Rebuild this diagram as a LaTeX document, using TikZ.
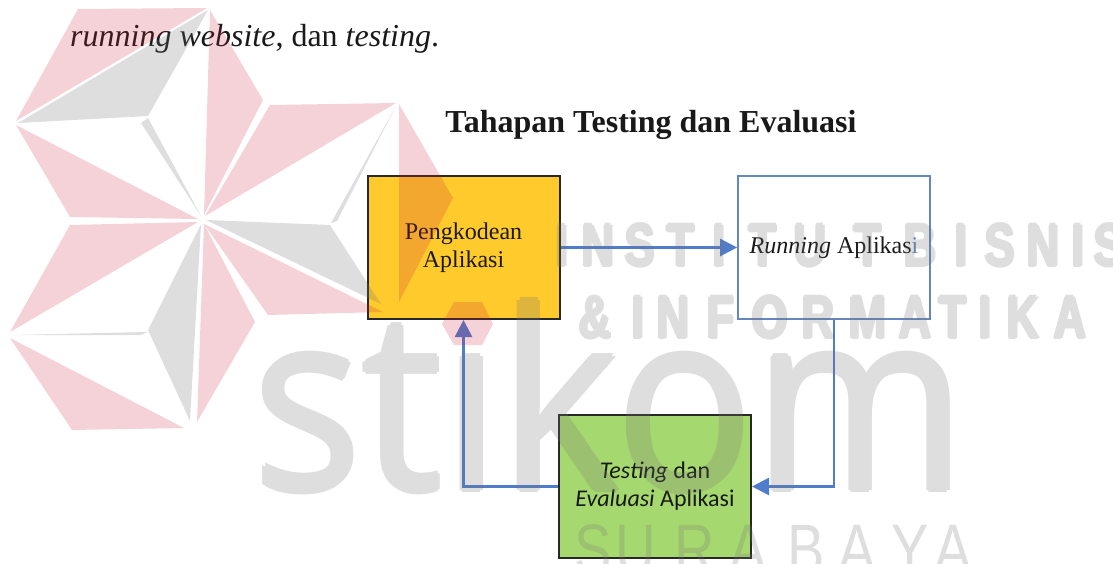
\documentclass[tikz,border=0pt]{standalone}
\usepackage{fontspec}
\usepackage{graphicx}
\setmainfont{Liberation Serif}
\newfontfamily\carlito{Carlito}
\newfontfamily\wmfont{Liberation Sans}
\newfontfamily\logofont{Open Sans}
\usetikzlibrary{arrows.meta}
\definecolor{gold}{RGB}{255,202,44}
\definecolor{lgreen}{RGB}{166,216,112}
\definecolor{boxline}{RGB}{40,40,40}
\definecolor{runline}{RGB}{100,136,190}
\definecolor{arrblue}{RGB}{80,124,204}
\definecolor{wmgray}{RGB}{116,116,116}
\definecolor{wmpink}{RGB}{200,30,60}
\definecolor{txt}{RGB}{25,25,25}
\tikzset{
  box/.style={minimum width=192pt, minimum height=143pt, inner sep=0pt, line width=2pt, align=center, text=txt},
  arr/.style={draw=arrblue, line width=2.6pt, -{Triangle[length=17pt,width=17pt]}},
  wmpk/.style={fill=wmpink, fill opacity=0.2},
  wmgr/.style={fill=wmgray, fill opacity=0.24},
  wmletter/.style={anchor=base, inner sep=0pt, text=wmgray, font=\wmfont\bfseries\fontsize{60}{60}\selectfont},
  wmthin/.style={anchor=base, inner sep=0pt, text=wmgray, font=\wmfont\fontsize{70}{70}\selectfont},
}
\begin{document}
\begin{tikzpicture}[x=1pt,y=-1pt]
\useasboundingbox (0,0) rectangle (1113,564);
\clip (0,0) rectangle (1113,564);
% texts
\node[anchor=base west, inner sep=0pt, text=txt, font=\fontsize{32}{38}\selectfont] (intro) at (70,47) {\textit{running website}, dan \textit{testing}.};
\node[anchor=base, inner sep=0pt, text=txt, font=\bfseries\fontsize{32}{38}\selectfont] (title) at (651,133) {Tahapan Testing dan Evaluasi};
% boxes
\node[box, draw=boxline, fill=gold, font=\fontsize{24}{28}\selectfont] (yel) at (463.5,247.5) {Pengkodean\\Aplikasi};
\node[box, draw=runline, line width=1.8pt, fill=white, font=\fontsize{24}{28}\selectfont] (run) at (834,247.5) {\textit{Running} Aplikas\textcolor{runline}{i}};
\node[box, draw=boxline, fill=lgreen, font=\carlito\fontsize{24}{28}\selectfont] (grn) at (655,486.5) {\textit{Testing} dan\\\textit{Evaluasi} Aplikasi};
% connectors
\draw[arr] (yel.east) -- (run.west);
\draw[arr] (run.south) |- (grn.east);
\draw[arr] (grn.west) -| (yel.south);
% watermark logo: face 1
\fill[wmpk] (78,9) -- (207,8) -- (16,121) -- cycle;
\fill[wmgr] (208,10) -- (148,116) -- (18,123) -- cycle;
\fill[wmgr] (148,118) -- (141,123) -- (201,216) -- cycle;
\fill[wmpk] (210,10) -- (263,100) -- (204,215) -- cycle;
\fill[wmpk] (16,125) -- (198,219) -- (70,217) -- cycle;
% face 2
\fill[wmpk] (270,105) -- (396,103) -- (205,216) -- cycle;
\fill[wmpk] (399,104) -- (453,198) -- (399,302) -- cycle;
\fill[wmgr] (206,220) -- (330,225) -- (381,304) -- cycle;
\fill[wmgr] (331,223) -- (337,221) -- (396,106) -- cycle;
\fill[wmpk] (204,224) -- (383,312) -- (268,315) -- cycle;
% face 3
\fill[wmpk] (70,225) -- (198,222) -- (10,332) -- cycle;
\fill[wmgr] (201,224) -- (148,330) -- (190,421) -- cycle;
\fill[wmgr] (147,332) -- (141,335) -- (12,335) -- cycle;
\fill[wmpk] (204,224) -- (255,322) -- (197,422) -- cycle;
\fill[wmpk] (10,338) -- (72,430) -- (184,428) -- cycle;
% i dot
\fill[wmpk] (442,324) -- (454,302) -- (482,302) -- (493,324) -- (482,345) -- (454,345) -- cycle;
% watermark lettering, drawn as one translucent group
\begin{scope}[transparency group, opacity=0.24]
\foreach \dx/\dy [count=\k] in {-2.5/0,0/0,2.5/0,0/-2.5,0/2.5}
  \node[anchor=base west, inner sep=0pt, text=wmgray] (wms-\k) at (253+\dx,490+\dy) {\resizebox{712pt}{190pt}{\logofont st\i kom}};
\foreach \dx/\dy [count=\k] in {-1.7/0,0/0,1.7/0,0/-1.2,0/1.2}{
  \foreach \c/\x [count=\n] in {I/562,N/598,S/640,T/681,I/719,T/763,U/810,T/868,B/920,I/961,S/1000,N/1043,I/1078,S/1109}
    \node[wmletter] (wa\k-\n) at (\x+\dx,266+\dy) {\scalebox{0.75}[1]{\c}};
  \foreach \c/\x [count=\n] in {\&/595,I/638,N/673,F/721,O/770,R/818,M/868,A/915,T/953,I/985,K/1023,A/1070}
    \node[wmletter] (wb\k-\n) at (\x+\dx,338+\dy) {\scalebox{0.75}[1]{\c}};
}
\foreach \c/\x [count=\n] in {S/593,U/636,R/695,A/748,B/806,A/857,Y/910,A/953}
  \node[wmthin] (wc\n) at (\x,573) {\scalebox{0.8}[1]{\c}};
\end{scope}
\end{tikzpicture}
\end{document}
